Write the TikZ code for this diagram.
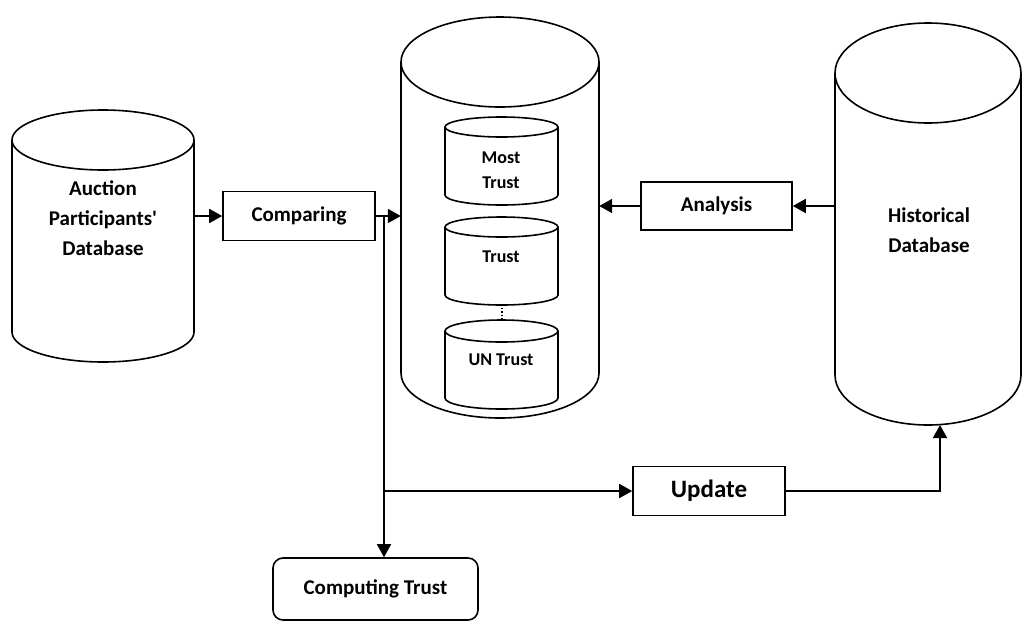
\documentclass[tikz,border=0pt]{standalone}
\usepackage{fontspec}
\setmainfont{Carlito}
\usepackage{tikz}
\usetikzlibrary{arrows.meta}

% database cylinder: centre x, top y, bottom y, x radius, y radius
\newcommand{\dbcyl}[5]{%
  \draw[line width=1.6pt] (#1-#4,#2) -- (#1-#4,#3)
    arc[start angle=180, end angle=0, x radius=#4, y radius=#5] -- (#1+#4,#2);
  \draw[line width=1.6pt, fill=white] (#1,#2) ellipse[x radius=#4, y radius=#5];
}

\begin{document}
\begin{tikzpicture}[x=1pt, y=-1pt,
    box/.style={draw, line width=1.6pt, inner sep=0pt, font=\bfseries\fontsize{21}{24}\selectfont},
    lbl/.style={align=center, inner sep=0pt, font=\bfseries\fontsize{21}{30}\selectfont},
    small/.style={align=center, inner sep=0pt, font=\bfseries\fontsize{18}{25}\selectfont},
    arr/.style={line width=1.8pt, -{Triangle[length=13pt, width=14pt]}}]
    \useasboundingbox (0,0) rectangle (1026,622);

    % Databases
    \dbcyl{103}{140}{332}{91}{30}
    \dbcyl{500}{62}{373}{99}{45}
    \dbcyl{928}{73}{375}{93}{50}
    \node[inner sep=0pt, minimum width=182, minimum height=250] (apdb) at (103,236) {};
    \node[inner sep=0pt, minimum width=198, minimum height=360] (trustdb) at (500,238) {};
    \node[inner sep=0pt, minimum width=186, minimum height=400] (histdb) at (928,225) {};
    \node[lbl] (apdbtext) at (103,218) {Auction\\Participants\textquotesingle\\Database};
    \node[lbl] (histtext) at (929,230) {Historical\\Database};

    % Trust levels
    \dbcyl{501.5}{127}{195}{56.5}{10}
    \dbcyl{501.5}{227}{295}{56.5}{10}
    \dbcyl{501.5}{331}{398}{56.5}{11}
    \node[small] (most) at (501,170) {Most\\Trust};
    \node[small] (trust) at (501,257) {Trust};
    \node[small] (untrust) at (501,360) {UN Trust};
    \draw[dotted, line width=1.2pt] (502,305) -- (502,320);

    % Processes
    \node[box, minimum width=152, minimum height=49] (cmp) at (299,216) {Comparing};
    \node[box, minimum width=151, minimum height=48] (ana) at (716.5,206) {Analysis};
    \node[box, minimum width=152, minimum height=49, font=\bfseries\fontsize{25}{28}\selectfont] (upd) at (709,491) {Update};
    \node[box, rounded corners=10pt, minimum width=205, minimum height=62] (ct) at (375.5,589) {Computing Trust};

    % Flows
    \coordinate (j1) at (384,216);
    \coordinate (j2) at (384,491);
    \coordinate (hb) at (940,425);
    \draw[arr] (apdb.east |- cmp.west) -- (cmp.west);
    \draw[arr] (cmp.east) -- (cmp.east -| trustdb.west);
    \draw[arr] (j1) -- (j1 |- ct.north);
    \draw[arr] (j2) -- (upd.west);
    \draw[arr] (upd.east) -| (hb);
    \draw[arr] (ana.east -| histdb.west) -- (ana.east);
    \draw[arr] (ana.west) -- (ana.west -| trustdb.east);
\end{tikzpicture}
\end{document}
